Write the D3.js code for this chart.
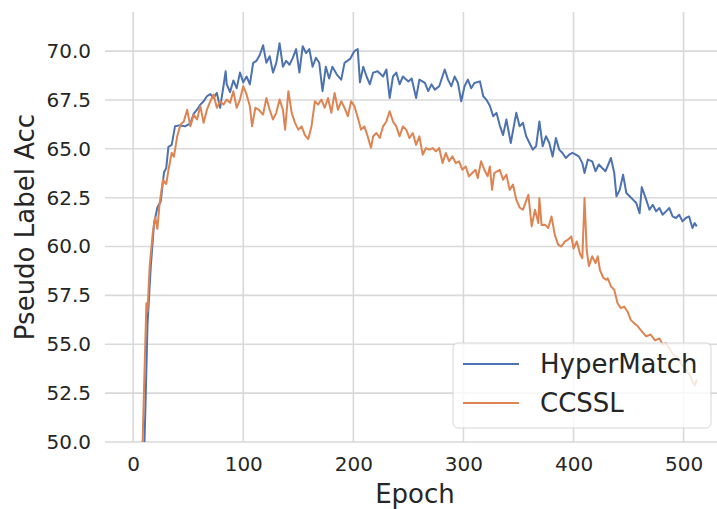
<!DOCTYPE html>
<html>
<head>
<meta charset="utf-8">
<script src="https://cdn.jsdelivr.net/npm/d3@7"></script>
<style>
  body { margin: 0; background: #fff; }
  text { font-family: "DejaVu Sans", sans-serif; fill: #262626; }
</style>
</head>
<body>
<div id="chart"></div>
<script>
// HyperMatch pseudo label accuracy
var hmEpoch = [0,5,9,11,13,16,19,22,25,28,30,32,35,38,42,47,52,55,58,61,64,67,70,73,76,79,82,84,85,88,91,94,97,100,
  103,106,109,112,115,118,121,124,127,130,133,136,139,142,145,148,151,154,157,160,163,166,169,172,175,178,181,185,189,
  192,197,201,204,206,209,212,215,218,222,227,230,233,236,239,242,245,250,253,257,260,265,268,271,274,278,283,286,289,
  292,295,298,301,304,307,310,315,318,321,324,327,330,333,336,339,343,348,351,354,357,360,363,366,369,372,375,378,381,
  384,387,390,393,396,399,402,405,408,410,413,417,420,423,426,429,434,437,439,442,445,448,451,454,457,460,462,466,469,
  472,475,478,481,484,487,490,493,496,499,502,505,508,510,512];
var hmAcc = [22,40,47.5,51.5,56,59,61.2,62,62.3,63.8,64.0,65.1,65.2,66.15,66.2,66.15,66.3,66.8,67.0,67.26,67.43,67.69,
  67.8,67.6,67.86,67.1,68.2,68.97,68.3,67.9,68.5,68.1,68.9,68.4,68.7,68.3,69.4,69.5,69.8,70.3,69.4,69.74,68.9,69.4,70.4,
  69.2,69.5,69.3,69.65,70.1,68.9,70.25,69.9,70.1,69.2,69.66,69.4,67.95,69.2,68.6,69.2,68.8,68.54,69.4,69.6,70.0,70.1,
  68.4,69.2,68.7,68.3,68.9,68.97,68.7,69.06,67.6,68.7,68.9,68.3,68.7,68.45,68.6,67.6,68.54,68.37,67.95,68.3,68.03,68.2,
  69.06,68.54,68.2,68.7,68.37,67.43,68.2,68.54,68.1,68.37,68.45,67.69,67.5,67.2,66.67,66.84,66.2,65.7,66.5,65.3,66.84,
  66.15,66.33,65.64,65.3,64.96,65.13,66.4,65.13,65.64,65.3,64.6,65.55,64.96,64.79,64.53,64.7,64.79,64.7,64.6,64.27,
  63.76,64.45,64.36,63.85,64.2,64.02,63.85,64.53,63.76,62.57,62.9,63.68,62.74,62.57,62.4,62.23,61.7,63.04,62.4,61.88,
  62.14,61.8,61.97,61.63,61.8,61.97,61.54,61.46,61.63,61.29,61.46,61.54,60.95,61.2,61.03];

// CCSSL pseudo label accuracy
var ccEpoch = [0,4,8,10,12,13,15,18,20,22,24,27,30,32,35,37,40,43,46,49,52,55,58,61,64,67,70,73,76,79,82,85,88,91,94,
  97,100,103,106,108,111,114,118,121,124,127,130,133,136,138,141,144,147,150,153,156,159,162,165,168,171,174,177,180,
  183,186,189,192,195,198,201,204,207,210,213,216,218,221,224,227,230,233,236,239,242,245,248,251,254,257,260,263,266,
  269,272,275,278,281,284,287,290,293,296,299,302,305,308,311,313,316,319,322,324,326,328,333,336,339,342,345,348,351,
  354,357,359,362,365,368,369,371,374,377,380,383,386,389,392,395,398,400,403,406,408,410,412,414,417,420,422,424,427,
  430,431,434,437,440,443,446,449,452,455,458,460,463,466,470,474,478,481,484,487,490,493,496,499,502,505,508,510,512];
var ccAcc = [25,40,48.8,53,57.1,56.7,59,60.8,61.5,60.9,62.2,63.4,63.2,63.9,64.8,64.6,65.64,66.24,66.4,67.0,66.15,66.75,
  66.5,67.18,66.33,67.0,67.43,67.78,67.1,67.43,67.26,67.52,67.35,67.95,67.1,67.52,68.2,67.78,67.18,66.15,67.1,67.0,
  66.75,67.6,67.0,66.5,66.84,67.52,67.0,65.98,67.95,66.84,66.33,65.98,66.15,65.7,65.5,66.15,67.43,67.26,67.52,67.1,
  67.6,66.84,67.86,67.0,67.43,67.1,66.67,67.43,67.18,66.6,65.98,66.15,65.64,65.05,65.64,65.81,65.55,66.15,66.4,66.92,
  66.4,66.15,65.64,66.15,65.98,65.55,65.81,65.2,65.64,64.7,65.04,64.96,65.04,64.87,65.04,64.27,64.79,64.36,64.62,64.27,
  64.36,63.93,64.1,63.59,63.76,63.93,63.5,64.36,63.93,63.6,64.1,62.9,63.76,63.93,63.42,63.68,62.9,63.17,62.4,62.0,
  61.88,62.35,62.65,61.03,61.88,61.2,62.48,61.1,61.12,60.95,61.54,60.6,60.1,60.0,60.25,60.35,60.52,59.9,60.26,59.6,
  59.4,62.48,59.8,59.0,59.5,59.15,59.5,58.8,58.4,58.3,58.38,57.96,57.79,57.1,56.85,56.93,56.68,56.25,56.08,55.95,55.8,
  55.6,55.4,55.5,55.2,55.3,55.0,55.06,54.8,54.5,54.37,54.2,53.9,53.7,53.5,53.1,52.9,53.2];

var seriesNames = ["HyperMatch", "CCSSL"];
var seriesColors = ["#4c72b0", "#dd8452"];
var xTicks = [0, 100, 200, 300, 400, 500];
var yTicks = [50.0, 52.5, 55.0, 57.5, 60.0, 62.5, 65.0, 67.5, 70.0];

var width = 717, height = 509;
var plot = {left: 105, right: 725, top: 12, bottom: 442};

var svg = d3.select("#chart").append("svg")
    .attr("width", width)
    .attr("height", height);

var x = d3.scaleLinear()
    .domain([-25.6, 537.6])
    .range([plot.left, plot.right]);

var y = d3.scaleLinear()
    .domain([50, 72])
    .range([plot.bottom, plot.top]);

svg.append("defs").append("clipPath")
    .attr("id", "clip")
  .append("rect")
    .attr("x", plot.left)
    .attr("y", plot.top)
    .attr("width", plot.right - plot.left)
    .attr("height", plot.bottom - plot.top);

// grid
svg.selectAll("line.vgrid")
  .data(xTicks)
  .enter().append("line")
    .attr("class", "vgrid")
    .attr("x1", function(d) { return x(d); })
    .attr("x2", function(d) { return x(d); })
    .attr("y1", plot.top)
    .attr("y2", plot.bottom)
    .style("stroke", "#d9d9d9")
    .style("stroke-width", 1.6);

svg.selectAll("line.hgrid")
  .data(yTicks)
  .enter().append("line")
    .attr("class", "hgrid")
    .attr("x1", plot.left)
    .attr("x2", plot.right)
    .attr("y1", function(d) { return y(d); })
    .attr("y2", function(d) { return y(d); })
    .style("stroke", "#d9d9d9")
    .style("stroke-width", 1.6);

// axes (labels only, no spines or tick marks)
var xAxis = d3.axisBottom(x).tickValues(xTicks).tickSize(0).tickPadding(15);
var yAxis = d3.axisLeft(y).tickValues(yTicks).tickSize(0).tickPadding(14)
    .tickFormat(d3.format(".1f"));

var gx = svg.append("g")
    .attr("transform", "translate(0," + plot.bottom + ")")
    .call(xAxis);
var gy = svg.append("g")
    .attr("transform", "translate(" + plot.left + ",0)")
    .call(yAxis);

[gx, gy].forEach(function(g) {
  g.select(".domain").remove();
  g.selectAll("text")
    .style("font-family", "DejaVu Sans, sans-serif")
    .style("font-size", "20px")
    .style("fill", "#262626");
});

// lines
var line = d3.line()
    .x(function(d) { return x(d[0]); })
    .y(function(d) { return y(d[1]); });

var series = [
  d3.zip(hmEpoch, hmAcc),
  d3.zip(ccEpoch, ccAcc)
];

svg.append("g")
    .attr("clip-path", "url(#clip)")
  .selectAll("path")
  .data(series)
  .enter().append("path")
    .attr("d", line)
    .style("fill", "none")
    .style("stroke", function(d, i) { return seriesColors[i]; })
    .style("stroke-width", 2)
    .style("stroke-linejoin", "round");

// axis labels
svg.append("text")
    .attr("x", (plot.left + plot.right) / 2)
    .attr("y", 503)
    .attr("text-anchor", "middle")
    .style("font-size", "26px")
    .text("Epoch");

svg.append("text")
    .attr("transform", "translate(34," + (plot.top + plot.bottom) / 2 + ") rotate(-90)")
    .attr("text-anchor", "middle")
    .style("font-size", "26px")
    .text("Pseudo Label Acc");

// legend
var legend = svg.append("g");

legend.append("rect")
    .attr("x", 453)
    .attr("y", 343)
    .attr("width", 258)
    .attr("height", 85)
    .attr("rx", 5)
    .style("fill", "#ffffff")
    .style("fill-opacity", 0.8)
    .style("stroke", "#d6d6d6")
    .style("stroke-width", 1);

var items = legend.selectAll("g.item")
  .data(seriesNames)
  .enter().append("g")
    .attr("class", "item")
    .attr("transform", function(d, i) { return "translate(0," + (364 + i * 39) + ")"; });

items.append("line")
    .attr("x1", 463)
    .attr("x2", 519)
    .style("stroke", function(d, i) { return seriesColors[i]; })
    .style("stroke-width", 2);

items.append("text")
    .attr("x", 540)
    .attr("y", 9)
    .style("font-size", "26px")
    .text(function(d) { return d; });
</script>
</body>
</html>
